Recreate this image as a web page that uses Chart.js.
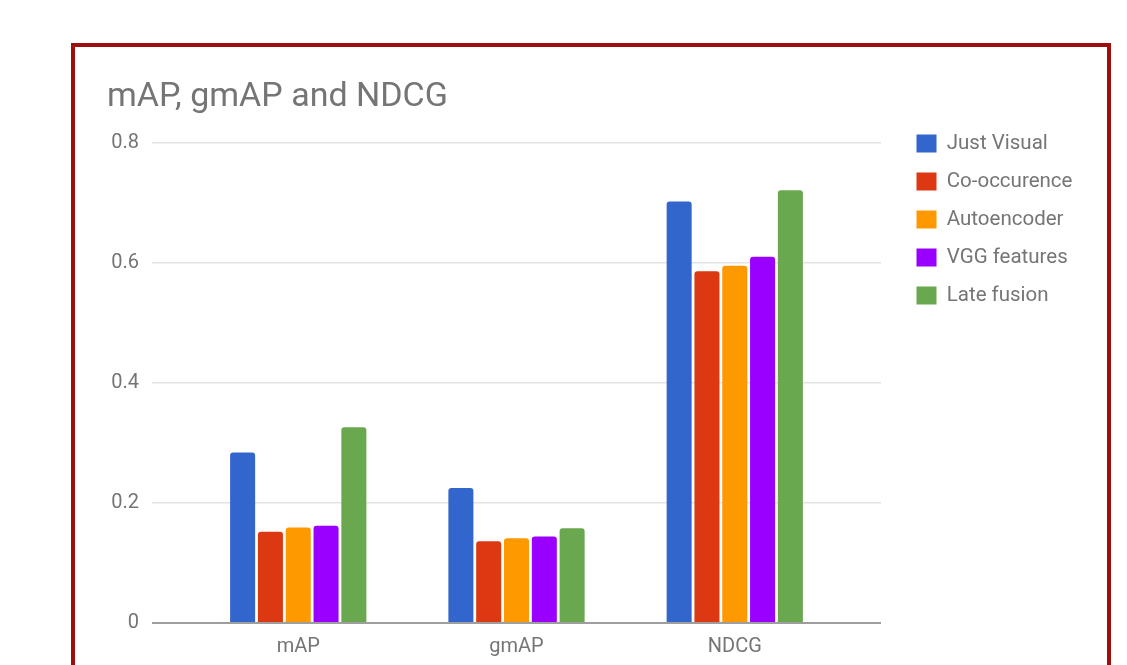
<!DOCTYPE html>
<html lang="en">
<head>
    <meta charset="UTF-8">
    <title>mAP, gmAP and NDCG</title>
    <script src="https://cdn.jsdelivr.net/npm/chart.js"></script>
    <style>
        body {
            margin: 0;
            background: #fff;
            font-family: Roboto, sans-serif;
        }
        .frame {
            position: absolute;
            left: 71px;
            top: 43px;
            width: 1032px;
            height: 640px;
            border: 4px solid #a00d0d;
            background: #fff;
        }
        canvas {
            display: block;
        }
    </style>
</head>
<body>
    <div class="frame">
        <canvas id="scoreChart" width="1032" height="618"></canvas>
    </div>

    <script>
        // values
        const categories = ['mAP', 'gmAP', 'NDCG'];
        const justVisual = [0.284, 0.225, 0.702];
        const coOccurence = [0.152, 0.136, 0.586];
        const autoencoder = [0.159, 0.141, 0.595];
        const vggFeatures = [0.162, 0.144, 0.610];
        const lateFusion = [0.326, 0.158, 0.721];
        const yTicks = [0, 0.2, 0.4, 0.6, 0.8];

        const grey = '#757575';

        // moves the legend box next to the plot, level with the top gridline
        const legendPlace = {
            id: 'legendPlace',
            afterLayout(chart) {
                const area = chart.chartArea;
                const legend = chart.legend;
                legend.left = area.right + 18;
                legend.right = chart.width;
                legend.top = area.top - 27;
            }
        };

        function series(label, values, color) {
            return {
                label: label,
                data: values,
                backgroundColor: color,
                borderWidth: 0,
                borderRadius: 3,
                categoryPercentage: 0.637,
                barPercentage: 0.9
            };
        }

        const ctx = document.getElementById('scoreChart').getContext('2d');
        new Chart(ctx, {
            type: 'bar',
            data: {
                labels: categories,
                datasets: [
                    series('Just Visual', justVisual, '#3366cc'),
                    series('Co-occurence', coOccurence, '#dc3912'),
                    series('Autoencoder', autoencoder, '#ff9900'),
                    series('VGG features', vggFeatures, '#9900ff'),
                    series('Late fusion', lateFusion, '#6aa84f')
                ]
            },
            options: {
                responsive: false,
                animation: false,
                layout: {
                    padding: { left: 32, right: 76, top: 0, bottom: 8 }
                },
                plugins: {
                    title: {
                        display: true,
                        text: 'mAP, gmAP and NDCG',
                        align: 'start',
                        color: grey,
                        font: { family: 'Roboto', size: 34, weight: 'normal' },
                        padding: { top: 30, bottom: 25 }
                    },
                    legend: {
                        position: 'right',
                        align: 'start',
                        maxWidth: 150,
                        labels: {
                            color: grey,
                            font: { family: 'Roboto', size: 20.5 },
                            boxWidth: 20,
                            boxHeight: 18,
                            padding: 17.5
                        }
                    },
                    tooltip: { enabled: false }
                },
                scales: {
                    x: {
                        grid: { display: false, drawTicks: false },
                        border: { display: false },
                        ticks: {
                            color: grey,
                            padding: 12,
                            font: { family: 'Roboto', size: 20 }
                        },
                        // groups sit closer together than an even split of the plot width
                        afterBuildTicks: function(scale) {
                            const pad = 0.17;
                            scale._startValue -= pad;
                            scale._valueRange += 2 * pad;
                        },
                        afterFit: function(scale) {
                            scale.height = 34;
                        }
                    },
                    y: {
                        min: 0,
                        max: 0.8,
                        afterBuildTicks: function(scale) {
                            scale.ticks = yTicks.map(v => ({ value: v }));
                        },
                        afterFit: function(scale) {
                            scale.width = 45;
                        },
                        grid: {
                            drawTicks: false,
                            color: c => c.tick.value === 0 ? '#9e9e9e' : '#e3e3e3',
                            lineWidth: c => c.tick.value === 0 ? 2 : 1.5
                        },
                        border: { display: false },
                        ticks: {
                            color: grey,
                            padding: 13,
                            font: { family: 'Roboto', size: 20 }
                        }
                    }
                }
            },
            plugins: [legendPlace]
        });
    </script>
</body>
</html>
